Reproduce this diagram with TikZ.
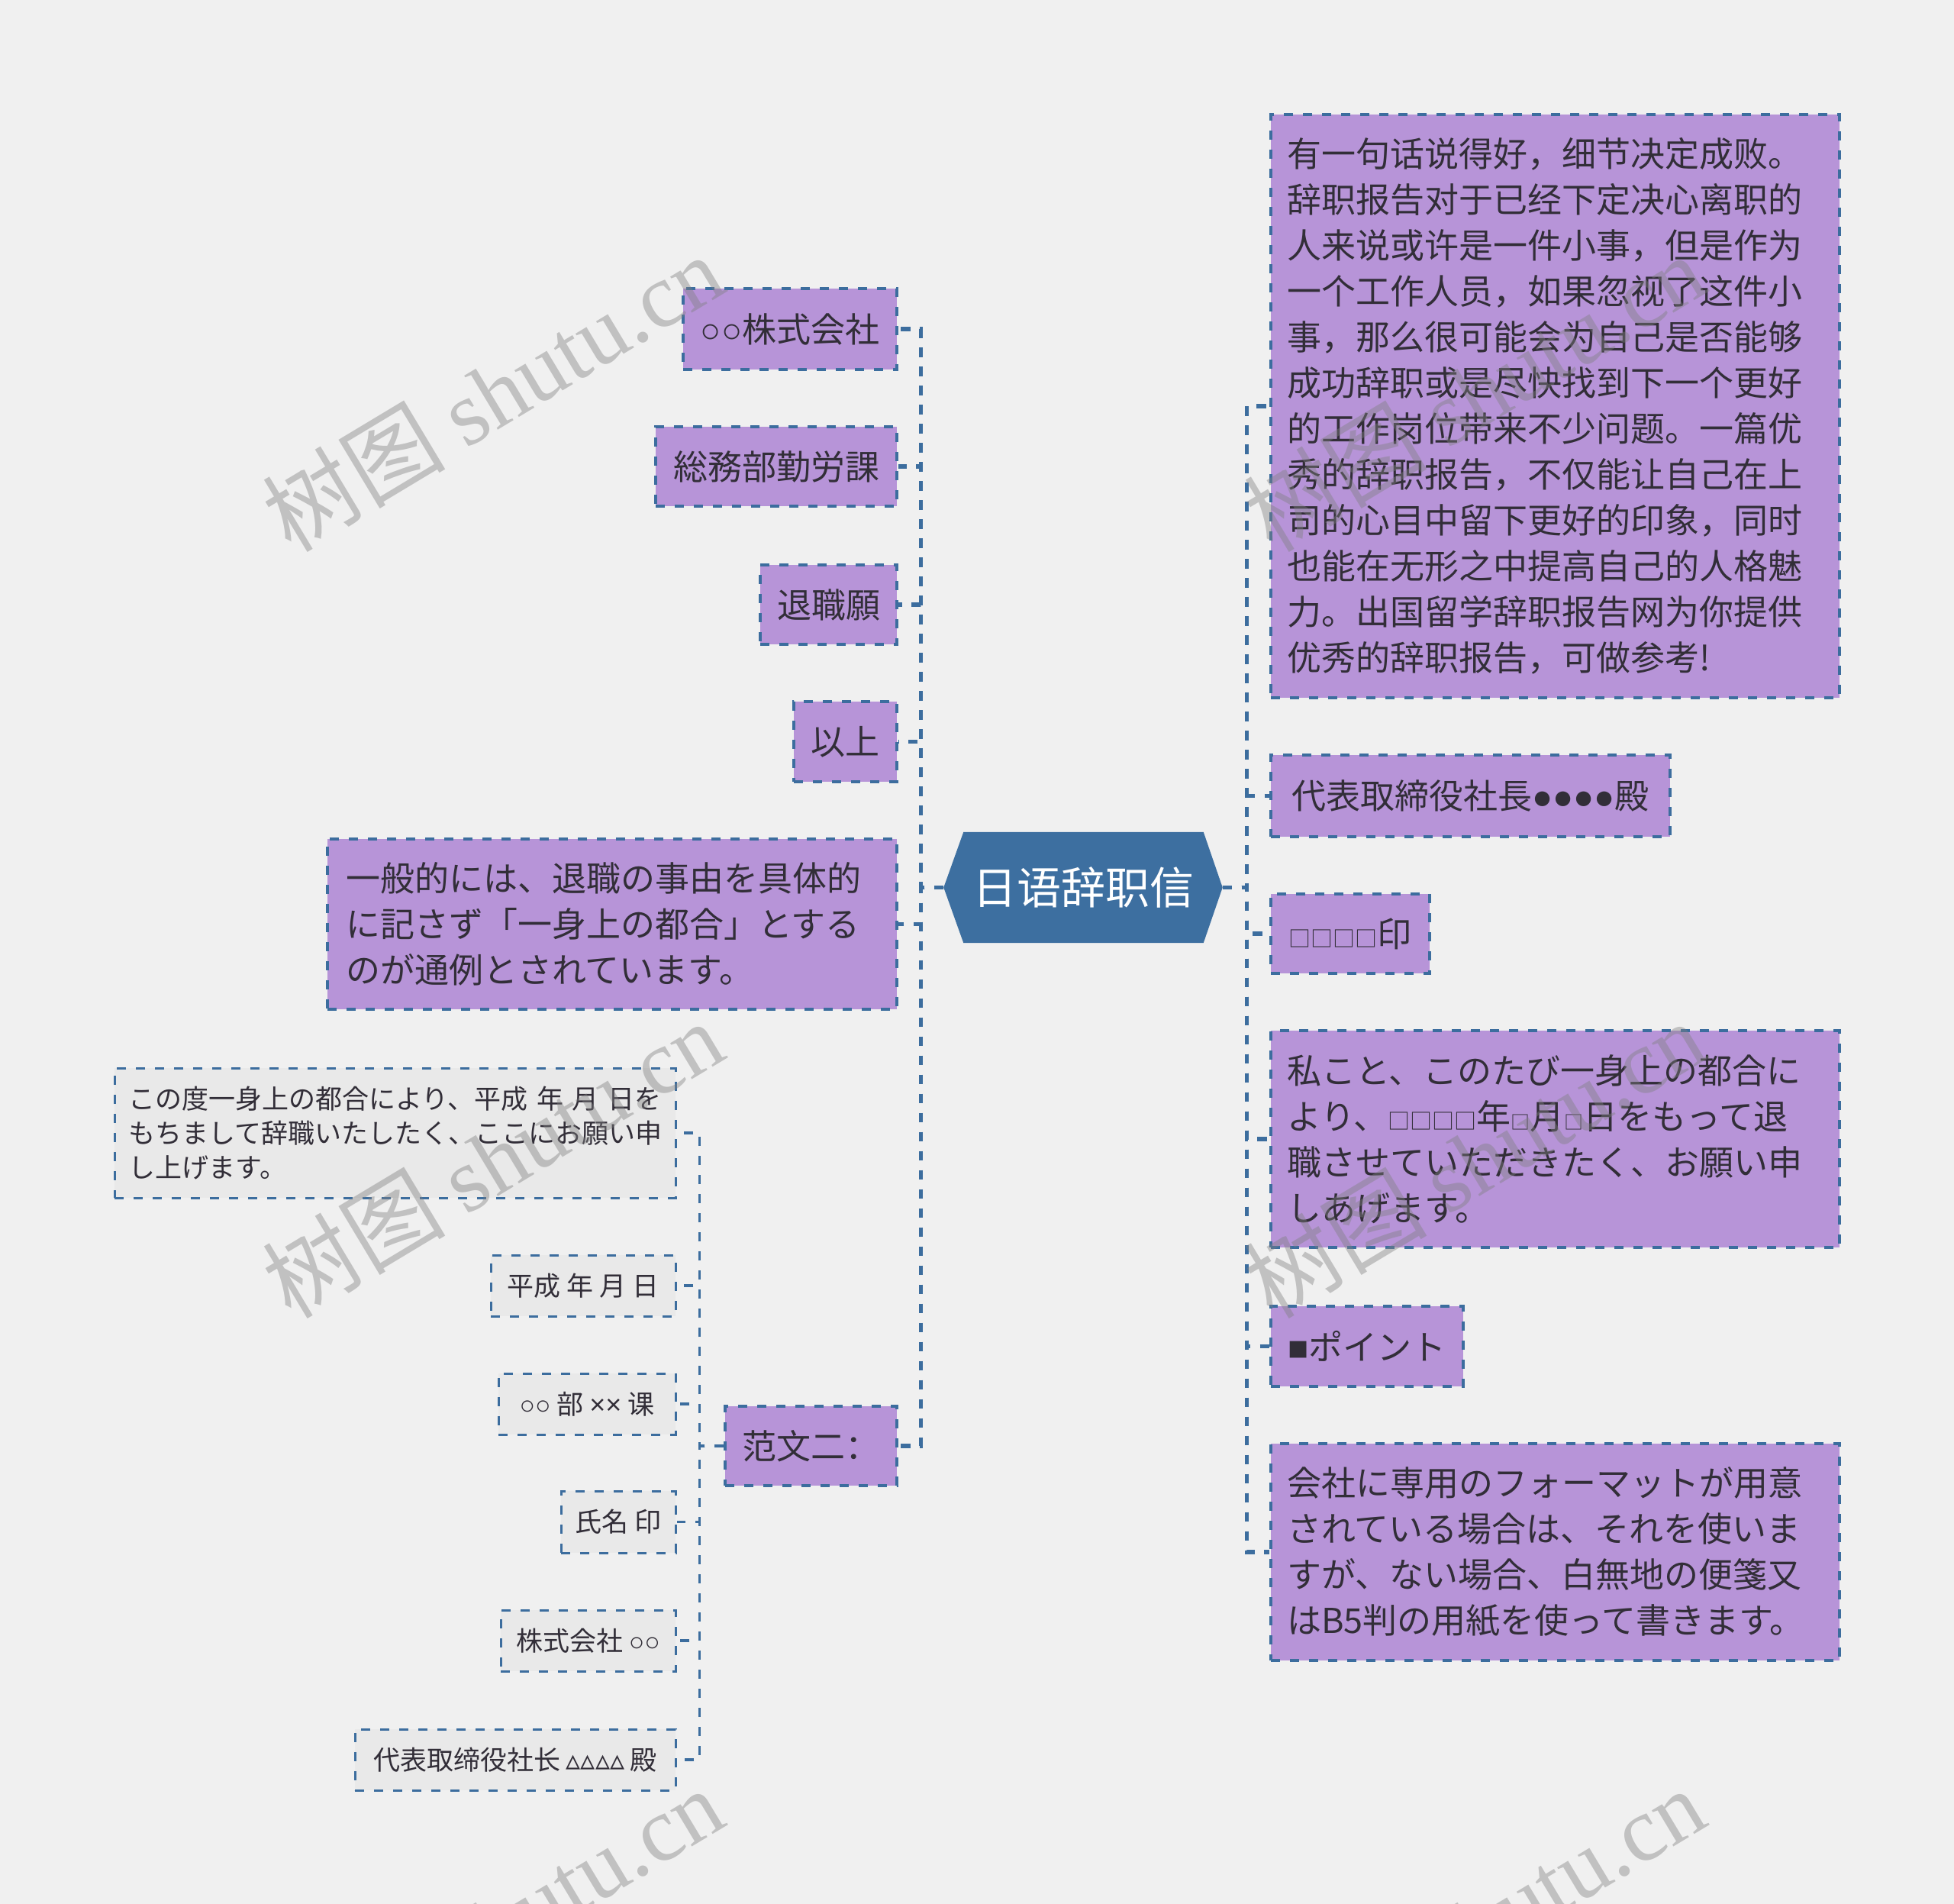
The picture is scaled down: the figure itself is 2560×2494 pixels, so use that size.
\documentclass[tikz,border=0pt]{standalone}
\usepackage{fontspec}
\setmainfont{Noto Sans CJK JP}
\newfontfamily\jpfont{Noto Sans CJK JP}
\newfontfamily\scfont{Noto Sans CJK SC}
\newfontfamily\symfont{Liberation Sans}
\newfontfamily\djvfont{DejaVu Sans}
\newfontfamily\wmserif{Liberation Serif}
\pgfdeclarelayer{bglayer}
\pgfsetlayers{bglayer,main}
\definecolor{bgc}{HTML}{F0F0F0}
\definecolor{hexblue}{HTML}{3D6FA0}
\definecolor{linec}{HTML}{3C6D9E}
\definecolor{purp}{HTML}{B794D8}
\definecolor{subfill}{HTML}{E9E9E9}
\definecolor{txt}{HTML}{322E38}
\definecolor{wmgray}{HTML}{808080}
\newcommand{\sqbig}{{\jpfont\fontsize{29}{29}\selectfont □}}
\newcommand{\sqsmall}{{\jpfont\fontsize{25}{25}\selectfont □}}
\tikzset{
  purplebox/.style={draw=linec, line width=3.2pt, dash pattern=on 12pt off 13pt,
    fill=purp, text=txt, inner sep=0pt, align=left,
    font=\fontsize{45}{60}\selectfont\jpfont},
  graybox/.style={draw=linec, line width=3pt, dash pattern=on 12pt off 13pt,
    fill=subfill, text=txt, inner sep=0pt, align=left,
    font=\fontsize{35}{45}\selectfont\jpfont},
  conn/.style={draw=linec, line width=5.5pt, dash pattern=on 12.5pt off 12.5pt},
  subconn/.style={draw=linec, line width=3.2pt, dash pattern=on 12pt off 13pt},
  wm/.style={text=wmgray, opacity=0.42, rotate=31, inner sep=0pt,
    font=\fontsize{120}{120}\selectfont}
}
\begin{document}
\begin{tikzpicture}[x=1pt,y=-1pt]
\useasboundingbox (0,0) rectangle (2560,2494);
\begin{pgfonlayer}{bglayer}
\fill[bgc] (0,0) rectangle (2560,2494);
\end{pgfonlayer}

% root
\node[text=white, inner sep=0pt, minimum width=365pt, minimum height=145pt,
  font=\fontsize{58}{58}\selectfont\scfont] (root) at (1419,1162.5) {日语辞职信};
\begin{pgfonlayer}{bglayer}
\fill[hexblue] ([xshift=26pt]root.north west) -- ([xshift=-25pt]root.north east)
  -- (root.east) -- ([xshift=-25pt]root.south east) -- ([xshift=26pt]root.south west)
  -- (root.west) -- cycle;
\end{pgfonlayer}

% left branch
\node[purplebox, minimum width=280pt, minimum height=106pt] (L1) at (1035,431) {{\symfont ○○}株式会社};
\node[purplebox, minimum width=316pt, minimum height=104pt] (L2) at (1017,611) {総務部勤労課};
\node[purplebox, minimum width=179pt, minimum height=104pt] (L3) at (1085.5,792) {退職願};
\node[purplebox, minimum width=135pt, minimum height=105pt] (L4) at (1107.5,971.5) {以上};
\node[purplebox, minimum width=746pt, minimum height=223pt, text width=698pt] (L5) at (802,1210.5)
  {一般的には、退職の事由を具体的\\に記さず「一身上の都合」とする\\のが通例とされています。};
\node[purplebox, minimum width=225pt, minimum height=104pt, font=\fontsize{45}{60}\selectfont\scfont] (L6) at (1062.5,1894) {范文二：};

% right branch
\node[purplebox, minimum width=745pt, minimum height=764pt, text width=703pt,
  font=\fontsize{45}{60}\selectfont\scfont] (R1) at (2037.5,532)
  {有一句话说得好，细节决定成败。\\辞职报告对于已经下定决心离职的\\人来说或许是一件小事，但是作为\\一个工作人员，如果忽视了这件小\\事，那么很可能会为自己是否能够\\成功辞职或是尽快找到下一个更好\\的工作岗位带来不少问题。一篇优\\秀的辞职报告，不仅能让自己在上\\司的心目中留下更好的印象，同时\\也能在无形之中提高自己的人格魅\\力。出国留学辞职报告网为你提供\\优秀的辞职报告，可做参考!};
\node[purplebox, minimum width=523pt, minimum height=107pt] (R2) at (1926.5,1042.5) {代表取締役社長{\symfont ●●●●}殿};
\node[purplebox, minimum width=208pt, minimum height=104pt] (R3) at (1769,1223) {\sqbig\sqbig\sqbig\sqbig 印};
\node[purplebox, minimum width=745pt, minimum height=284pt, text width=703pt] (R4) at (2037.5,1492)
  {私こと、このたび一身上の都合に\\より、\sqbig\sqbig\sqbig\sqbig 年\sqsmall 月\sqsmall 日をもって退\\職させていただきたく、お願い申\\しあげます。};
\node[purplebox, minimum width=252pt, minimum height=105pt] (R5) at (1791,1763.5) {{\symfont ■}ポイント};
\node[purplebox, minimum width=745pt, minimum height=284pt, text width=703pt] (R6) at (2037.5,2033)
  {会社に専用のフォーマットが用意\\されている場合は、それを使いま\\すが、ない場合、白無地の便箋又\\はB5判の用紙を使って書きます。};

% sub branch of 范文二
\node[graybox, minimum width=735pt, minimum height=170pt, text width=698pt] (S1) at (517.5,1484)
  {この度一身上の都合により、平成~年~月~日を\\もちまして辞職いたしたく、ここにお願い申\\し上げます。};
\node[graybox, minimum width=242pt, minimum height=80pt] (S2) at (764,1684) {平成~年~月~日};
\node[graybox, minimum width=232pt, minimum height=80pt] (S3) at (769,1839) {{\symfont\fontsize{34}{34}\selectfont ○○}~部~{\symfont\fontsize{36}{36}\selectfont ××}~课};
\node[graybox, minimum width=150pt, minimum height=81pt] (S4) at (810,1993.5) {氏名~印};
\node[graybox, minimum width=229pt, minimum height=80pt] (S5) at (770.5,2149) {株式会社~{\symfont\fontsize{34}{34}\selectfont ○○}};
\node[graybox, minimum width=420pt, minimum height=80pt] (S6) at (675,2305) {代表取缔役社长~{\djvfont\fontsize{38}{38}\selectfont ▵▵▵▵}~殿};

% connectors
\foreach \n in {L1,L2,L3,L4,L5,L6}
  \draw[conn] (root.west) -- ++(-30,0) |- (\n.east);
\foreach \n in {R1,R2,R3,R4,R5,R6}
  \draw[conn] (root.east) -- ++(32,0) |- (\n.west);
\foreach \n in {S1,S2,S3,S4,S5,S6}
  \draw[subconn] (L6.west) -- ++(-32,0) |- (\n.east);

% watermarks
\node[wm] (wm1) at (645,514) {{\scfont 树图}\ {\wmserif shutu.cn}};
\node[wm] (wm2) at (1931,514) {{\scfont 树图}\ {\wmserif shutu.cn}};
\node[wm] (wm3) at (645,1518) {{\scfont 树图}\ {\wmserif shutu.cn}};
\node[wm] (wm4) at (1931,1518) {{\scfont 树图}\ {\wmserif shutu.cn}};
\node[wm] (wm5) at (645,2523) {{\scfont 树图}\ {\wmserif shutu.cn}};
\node[wm] (wm6) at (1931,2523) {{\scfont 树图}\ {\wmserif shutu.cn}};
\end{tikzpicture}
\end{document}
